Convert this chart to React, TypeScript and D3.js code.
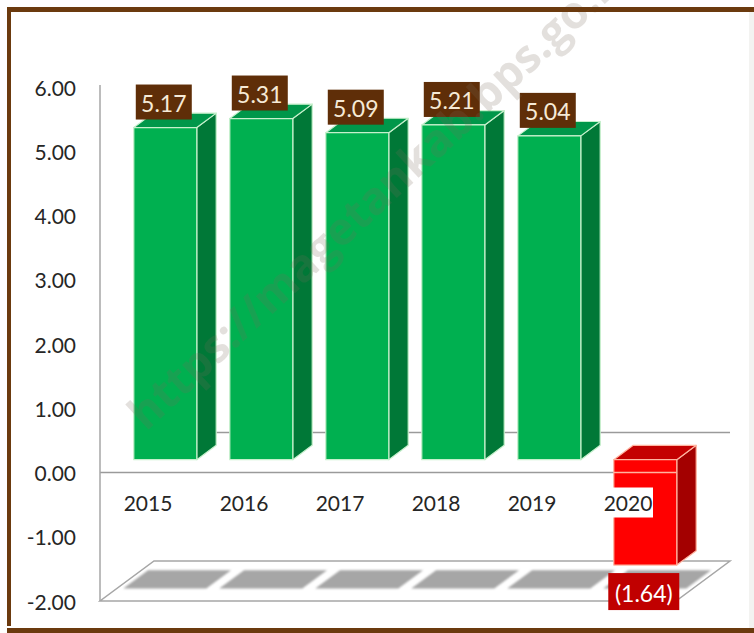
import React from "react";
import * as d3 from "d3";

const years = ["2015", "2016", "2017", "2018", "2019", "2020"];
const values = [5.17, 5.31, 5.09, 5.21, 5.04, -1.64];
const valueLabels = ["5.17", "5.31", "5.09", "5.21", "5.04", "(1.64)"];
const yTicks = [-2, -1, 0, 1, 2, 3, 4, 5, 6];
const watermark = "https://magetankab.bps.go.id";

const W = 754;
const H = 633;
const DX = 54;
const DY = 40;
const Z0 = 0.32;
const Z1 = 0.68;
const FONT = "Lato, 'Open Sans', sans-serif";

export default function App() {
  const x = d3.scaleBand<string>().domain(years).range([100, 676]).paddingInner(0).paddingOuter(0);
  const y = d3.scaleLinear().domain([-2, 6]).range([601, 87]);
  const bw = x.bandwidth() * 0.656;
  const P = (px: number, v: number, z: number): [number, number] => [px + z * DX, y(v) - z * DY];
  const poly = (pts: [number, number][]) => d3.line()(pts)! + "Z";

  const xMin = x.range()[0];
  const xMax = x.range()[1];

  const floor = poly([P(xMin, -2, 0), P(xMax, -2, 0), P(xMax, -2, 1), P(xMin, -2, 1)]);

  return (
    <svg width={W} height={H} style={{ position: "absolute", left: 0, top: 0, background: "#fff" }}>
      <defs>
        <filter id="blur" x="-10%" y="-50%" width="120%" height="200%">
          <feGaussianBlur stdDeviation="1.3" />
        </filter>
      </defs>
      <rect x={0} y={0} width={W} height={H} fill="#fff" />
      <rect x={749} y={12} width={5} height={616} fill="#f3f3f1" />

      {/* floor */}
      <path d={floor} fill="#fff" stroke="#a6a6a6" strokeWidth={1.5} />
      {years.map((yr) => {
        const c = x(yr)! + x.bandwidth() / 2;
        const sw = 41.5;
        return (
          <path
            key={"sh" + yr}
            d={poly([P(c - sw, -2, 0.31), P(c + sw, -2, 0.31), P(c + sw, -2, 0.77), P(c - sw, -2, 0.77)])}
            fill="#a6a6a6"
            filter="url(#blur)"
          />
        );
      })}

      {/* back zero line, front zero line, y axis */}
      <path d={d3.line()([P(xMin, 0, 1), P(xMax, 0, 1)])!} stroke="#9a9a9a" strokeWidth={1.5} fill="none" />
      <path d={d3.line()([P(xMin, 0, 0), P(xMax, 0, 0)])!} stroke="#9a9a9a" strokeWidth={1.5} fill="none" />
      <path d={d3.line()([[xMin, y(6) - 2], [xMin, y(-2)]])!} stroke="#a6a6a6" strokeWidth={1.5} fill="none" />

      {/* bars */}
      {years.map((yr, i) => {
        const v = values[i];
        const x0 = x(yr)! + x.bandwidth() / 2 - bw / 2;
        const x1 = x0 + bw;
        const neg = v < 0;
        const front = neg ? "#ff0000" : "#00b050";
        const top = neg ? "#c40000" : "#00974a";
        const side = neg ? "#a30000" : "#007837";
        const edge = neg ? "#ffb4a0" : "#c6f0cc";
        const vt = Math.max(v, 0);
        const vb = Math.min(v, 0);
        return (
          <g key={"bar" + yr}>
            <path d={poly([P(x1, vb, Z0), P(x1, vt, Z0), P(x1, vt, Z1), P(x1, vb, Z1)])} fill={side} stroke={edge} strokeWidth={1.2} strokeLinejoin="round" />
            <path d={poly([P(x0, vt, Z0), P(x1, vt, Z0), P(x1, vt, Z1), P(x0, vt, Z1)])} fill={top} stroke={edge} strokeWidth={1.2} strokeLinejoin="round" />
            <path d={poly([P(x0, vb, Z0), P(x1, vb, Z0), P(x1, vt, Z0), P(x0, vt, Z0)])} fill={front} stroke={edge} strokeWidth={1.2} strokeLinejoin="round" />
            {neg && (
              <path d={d3.line()([[P(x0, 0, Z0)[0], y(0)], [P(x1, 0, Z0)[0], y(0)]])!} stroke={edge} strokeWidth={1.3} fill="none" />
            )}
          </g>
        );
      })}

      {/* y labels */}
      {yTicks.map((t) => (
        <text key={"yt" + t} x={76} y={y(t)} textAnchor="end" dominantBaseline="central" fontFamily={FONT} fontSize={21} fill="#262626">
          {t.toFixed(2)}
        </text>
      ))}

      {/* category labels */}
      {years.map((yr) => {
        const c = x(yr)! + x.bandwidth() / 2;
        const ly = y(0) + 30;
        return (
          <g key={"cl" + yr}>
            <rect x={c - 25} y={ly - 15} width={50} height={30} fill="#fff" />
            <text x={c} y={ly} textAnchor="middle" dominantBaseline="central" fontFamily={FONT} fontSize={21} fill="#262626">
              {yr}
            </text>
          </g>
        );
      })}

      {/* data labels */}
      {years.map((yr, i) => {
        const v = values[i];
        const neg = v < 0;
        const x0 = x(yr)! + x.bandwidth() / 2 - bw / 2;
        const [fx, fy] = P(x0 + bw / 2, v, Z0);
        const w = neg ? 71 : 56;
        const h = neg ? 37 : 35;
        const by = neg ? fy + 8 : fy - 8 - h;
        const cx = fx - 1.5;
        return (
          <g key={"dl" + yr}>
            <rect x={cx - w / 2} y={by} width={w} height={h} fill={neg ? "#c00000" : "#5f2e08"} />
            <text x={cx} y={by + h / 2 + 1} textAnchor="middle" dominantBaseline="central" fontFamily={FONT} fontSize={23} fill={neg ? "#ffffff" : "#f6ead6"}>
              {valueLabels[i]}
            </text>
          </g>
        );
      })}

      {/* watermark */}
      <text
        transform="translate(146,432) rotate(-43)"
        fontFamily="'Open Sans', sans-serif"
        fontWeight={700}
        fontSize={45}
        fill="#7a6a5a"
        opacity={0.2}
      >
        {watermark}
      </text>

      {/* frame */}
      <rect x={7} y={7} width={W - 7} height={5} fill="#6b3a0e" />
      <rect x={7} y={7} width={4} height={626 - 7} fill="#6b3a0e" />
      <rect x={7} y={628} width={W - 7} height={5} fill="#6b3a0e" />
    </svg>
  );
}
